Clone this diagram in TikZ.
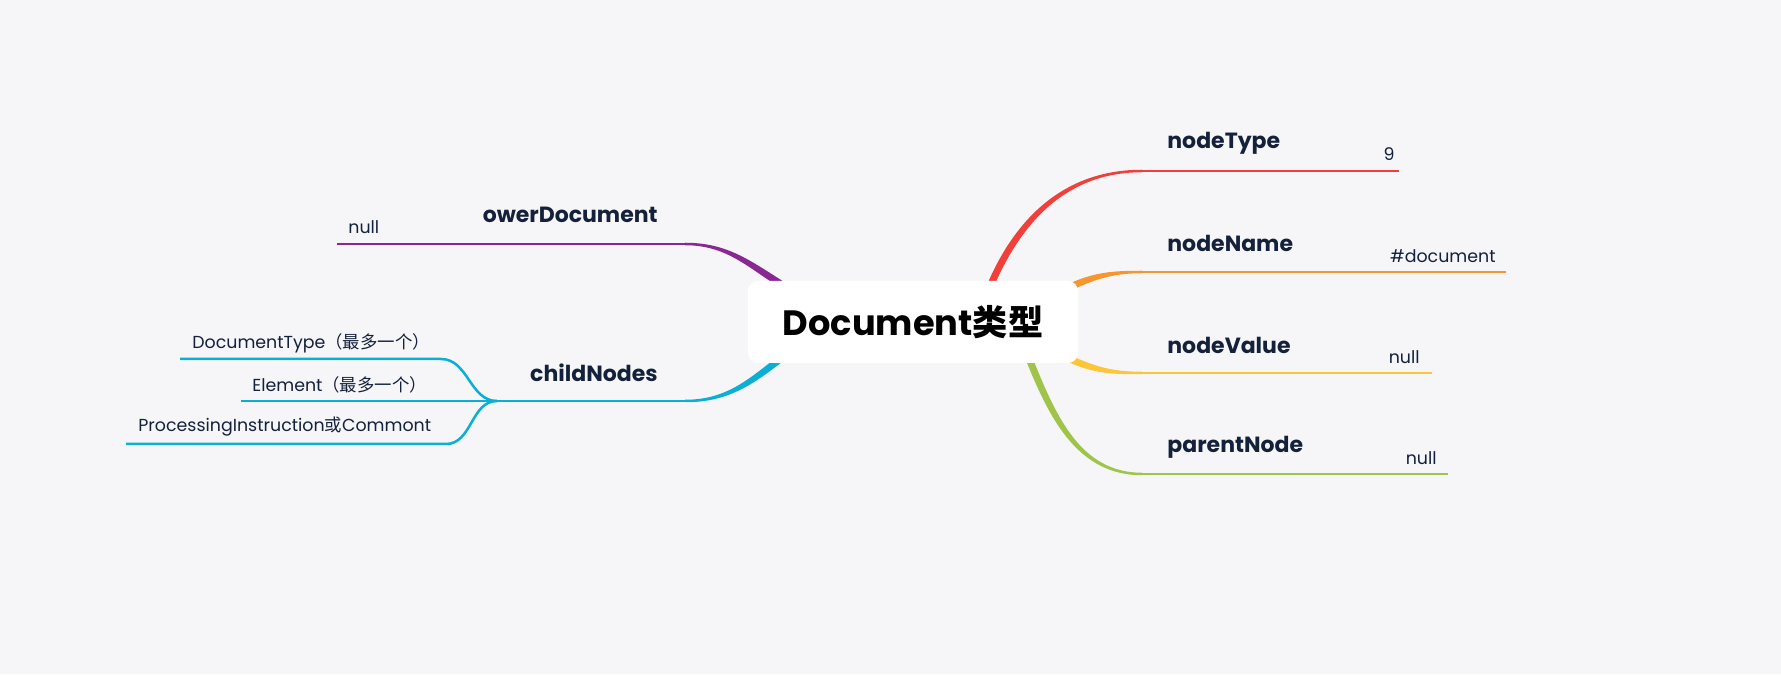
\documentclass[tikz,border=0pt]{standalone}
\usepackage{fontspec}
\setmainfont{Poppins}
\newfontfamily\cjk{Noto Sans CJK SC}
\usetikzlibrary{calc,positioning}

\definecolor{bg}{HTML}{F6F6F9}
\definecolor{ink}{HTML}{14213A}
\definecolor{cRed}{HTML}{F1403A}
\definecolor{cOrange}{HTML}{F7962E}
\definecolor{cYellow}{HTML}{FEC538}
\definecolor{cGreen}{HTML}{A0C44A}
\definecolor{cPurple}{HTML}{8A2893}
\definecolor{cCyan}{HTML}{0AAFD3}

% tapered branch: colour, start, end, out angle, in angle
\newcommand{\limb}[5]{%
  \fill[#1] ($(#2)+(#4+90:3.5)$) to[out=#4,in=#5] ($(#3)+(#5-90:1.25)$)
    -- ($(#3)+(#5+90:1.25)$) to[out=#5,in=#4] ($(#2)+(#4-90:3.5)$) -- cycle;}

\begin{document}
\begin{tikzpicture}[x=0.5pt,y=0.5pt,
  root/.style={fill=white, rounded corners=5pt, minimum width=165pt, minimum height=41pt, inner sep=0pt, font=\bfseries\fontsize{17.6}{20}\selectfont},
  topic/.style={anchor=west, inner sep=0pt, text=ink, font=\bfseries\fontsize{11}{13}\selectfont},
  leaf/.style={inner sep=0pt, text=ink, font=\fontsize{8.7}{11}\selectfont},
  twig/.style={line width=1.25pt}
]
\fill[bg] (0,0) rectangle (1781,674);
\useasboundingbox (0,0) rectangle (1781,674);

% right side
\coordinate (typeS) at (992,392);   \coordinate (typeA) at (1142,503);  \coordinate (typeB) at (1399,503);
\coordinate (nameS) at (1068,386);  \coordinate (nameA) at (1142,402);  \coordinate (nameB) at (1506,402);
\coordinate (valueS) at (1068,316); \coordinate (valueA) at (1142,301); \coordinate (valueB) at (1432,301);
\coordinate (parentS) at (1030,313);\coordinate (parentA) at (1142,200);\coordinate (parentB) at (1448,200);

% left side
\coordinate (owerS) at (784,388);   \coordinate (owerA) at (685,430);   \coordinate (owerB) at (337,430);
\coordinate (childS) at (784,318);  \coordinate (childA) at (685,273);  \coordinate (childJ) at (497,273);
\coordinate (doctypeA) at (441,315);\coordinate (doctypeB) at (180,315);
\coordinate (elemB) at (241,273);
\coordinate (procA) at (446,230);   \coordinate (procB) at (126,230);

\limb{cRed}{typeS}{typeA}{66}{180}
\limb{cOrange}{nameS}{nameA}{25}{180}
\limb{cYellow}{valueS}{valueA}{-25}{180}
\limb{cGreen}{parentS}{parentA}{-68}{180}
\limb{cPurple}{owerS}{owerA}{148}{0}
\limb{cCyan}{childS}{childA}{218}{0}

\draw[twig, cRed] (typeA) -- (typeB);
\draw[twig, cOrange] (nameA) -- (nameB);
\draw[twig, cYellow] (valueA) -- (valueB);
\draw[twig, cGreen] (parentA) -- (parentB);
\draw[twig, cPurple] (owerA) -- (owerB);
\draw[twig, cCyan] (childA) -- (childJ);
\draw[twig, cCyan] (childJ) to[out=180,in=0] (doctypeA) -- (doctypeB);
\draw[twig, cCyan] (childJ) -- (elemB);
\draw[twig, cCyan] (childJ) to[out=180,in=0] (procA) -- (procB);

\node[root] (root) at (913,352) {Document{\cjk 类型}};

\node[topic] (type) at (1167,531) {nodeType};
\node[topic] (name) at (1167,431) {nodeName};
\node[topic] (value) at (1167,329) {nodeValue};
\node[topic] (parent) at (1167,227) {parentNode};
\node[topic, anchor=east] (ower) at (658,459) {owerDocument};
\node[topic, anchor=east] (child) at (658,301) {childNodes};

\node[leaf, anchor=east] (typeval) at (1395,520) {9};
\node[leaf, anchor=east] (nameval) at (1496,418) {\#document};
\node[leaf, anchor=east] (valueval) at (1420,317) {null};
\node[leaf, anchor=east] (parentval) at (1437,216) {null};
\node[leaf, anchor=west] (owerval) at (348,447) {null};
\node[leaf, anchor=west] (doctype) at (192,331) {DocumentType{\cjk（最多一个）}};
\node[leaf, anchor=west] (elem) at (252,289) {Element{\cjk（最多一个）}};
\node[leaf, anchor=west] (proc) at (138,247) {ProcessingInstruction{\cjk 或}Commont};
\end{tikzpicture}
\end{document}
